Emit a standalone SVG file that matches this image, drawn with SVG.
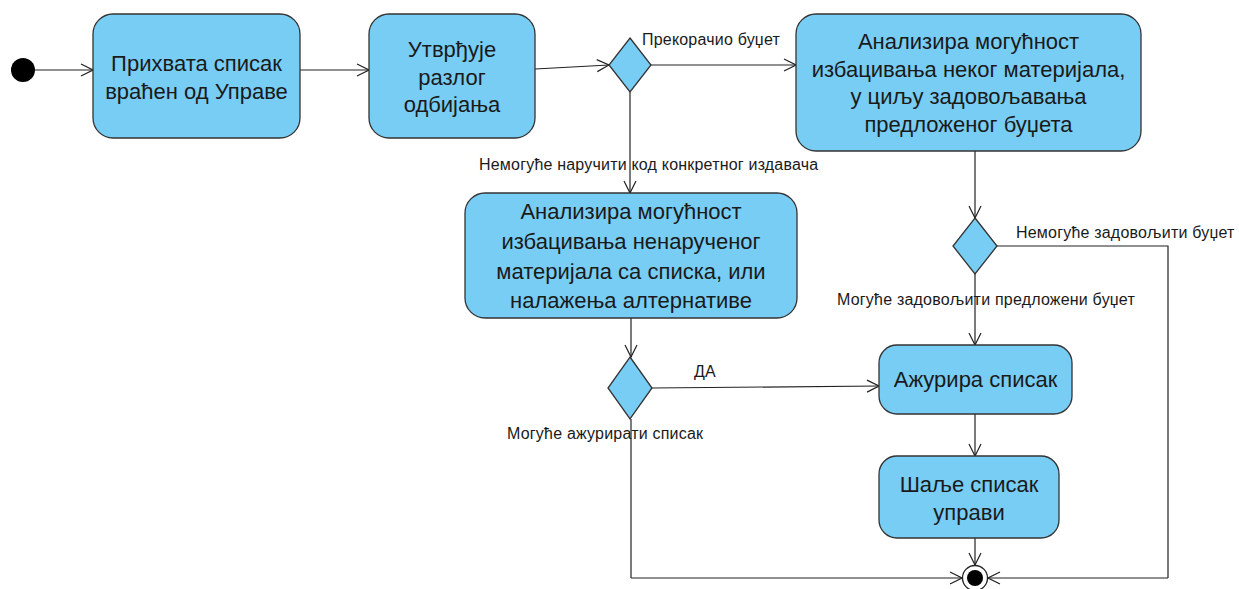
<svg xmlns="http://www.w3.org/2000/svg" width="1239" height="589" viewBox="0 0 1239 589">
  <defs>
    <marker id="open" viewBox="0 0 14 14" refX="13" refY="7" markerWidth="14" markerHeight="14" markerUnits="userSpaceOnUse" orient="auto">
      <path d="M1,1 L13,7 L1,13" fill="none" stroke="#222" stroke-width="1.2"/>
    </marker>
  </defs>
  <style>
    .act { fill: #78cdf4; stroke: #333; stroke-width: 1.3; }
    .dec { fill: #78cdf4; stroke: #333; stroke-width: 1.3; }
    .t { font-family: "Liberation Sans", Arial, sans-serif; font-size: 22px; fill: #1a1a1a; text-anchor: middle; }
    .lbl { font-family: "Liberation Sans", Arial, sans-serif; font-size: 16px; letter-spacing: 0.2px; fill: #1a1a1a; }
    .edge { fill: none; stroke: #222; stroke-width: 1.2; }
    .arr { marker-end: url(#open); }
  </style>

  <!-- connectors -->
  <g id="connectors">
    <path class="edge arr" d="M35,70 L93,70"/>
    <path class="edge arr" d="M300,70 L369,70"/>
    <path class="edge arr" d="M535,69 L609,65"/>
    <path class="edge arr" d="M651,65 L796,65"/>
    <path class="edge arr" d="M630,92 L630,193"/>
    <path class="edge arr" d="M975,151 L975,218"/>
    <path class="edge" d="M997,246 L1168,246 L1168,578"/>
    <path class="edge arr" d="M1168,578 L988,578"/>
    <path class="edge arr" d="M975,274 L975,345"/>
    <path class="edge arr" d="M631,318 L631,357"/>
    <path class="edge arr" d="M652,388 L879,386"/>
    <path class="edge" d="M631,419 L631,578"/>
    <path class="edge arr" d="M631,578 L962,578"/>
    <path class="edge arr" d="M975,414 L975,456"/>
    <path class="edge arr" d="M975,538 L975,565"/>

    <text class="lbl" x="642" y="45">Прекорачио буџет</text>
    <text class="lbl" x="479" y="170">Немогуће наручити код конкретног издавача</text>
    <text class="lbl" x="1016" y="238">Немогуће задовољити буџет</text>
    <text class="lbl" x="837" y="305">Могуће задовољити предложени буџет</text>
    <text class="lbl" x="694" y="377">ДА</text>
    <text class="lbl" x="507" y="439">Могуће ажурирати списак</text>
  </g>

  <!-- start -->
  <g id="start">
    <circle cx="23" cy="70" r="12" fill="#000"/>
  </g>

  <g id="receive">
    <rect class="act" x="93" y="14" width="207" height="124" rx="20"/>
    <text class="t" x="196.5" y="71">Прихвата списак</text>
    <text class="t" x="196.5" y="99">враћен од Управе</text>
  </g>

  <g id="reason">
    <rect class="act" x="369" y="14" width="166" height="124" rx="20"/>
    <text class="t" x="452" y="57">Утврђује</text>
    <text class="t" x="452" y="85">разлог</text>
    <text class="t" x="452" y="112">одбијања</text>
  </g>

  <g id="decision1">
    <path class="dec" d="M630,38 L651,65 L630,92 L609,65 Z"/>
  </g>

  <g id="budget">
    <rect class="act" x="796" y="14" width="345" height="137" rx="20"/>
    <text class="t" x="968.5" y="49">Анализира могућност</text>
    <text class="t" x="968.5" y="77">избацивања неког материјала,</text>
    <text class="t" x="968.5" y="104">у циљу задовољавања</text>
    <text class="t" x="968.5" y="132">предложеног буџета</text>
  </g>

  <g id="alternative">
    <rect class="act" x="465" y="193" width="332" height="125" rx="20"/>
    <text class="t" x="631" y="219">Анализира могућност</text>
    <text class="t" x="631" y="249">избацивања ненаручено&#1075;</text>
    <text class="t" x="631" y="279">материјала са списка, или</text>
    <text class="t" x="631" y="308">налажења алтернативе</text>
  </g>

  <g id="decision2">
    <path class="dec" d="M975,218 L997,246 L975,274 L953,246 Z"/>
  </g>

  <g id="decision3">
    <path class="dec" d="M630,357 L652,388 L630,419 L608,388 Z"/>
  </g>

  <g id="update">
    <rect class="act" x="879" y="345" width="193" height="69" rx="18"/>
    <text class="t" x="975.5" y="387">Ажурира списак</text>
  </g>

  <g id="send">
    <rect class="act" x="879" y="456" width="180" height="82" rx="18"/>
    <text class="t" x="969" y="492">Шаље списак</text>
    <text class="t" x="969" y="520">управи</text>
  </g>

  <!-- end -->
  <g id="end">
    <circle cx="975" cy="578" r="12.5" fill="#fff" stroke="#222" stroke-width="1.3"/>
    <circle cx="975" cy="578" r="8" fill="#000"/>
  </g>
</svg>
